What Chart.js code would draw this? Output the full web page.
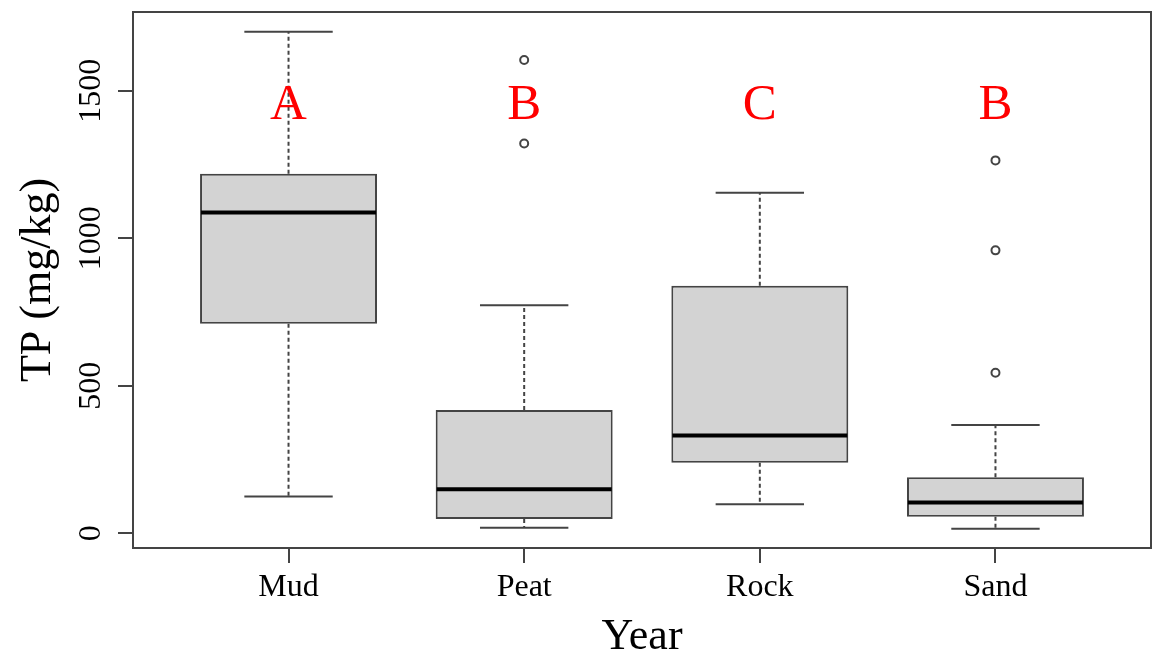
<!DOCTYPE html>
<html><head><meta charset="utf-8">
<script src="https://cdn.jsdelivr.net/npm/chart.js@4/dist/chart.umd.min.js"></script>
<style>html,body{margin:0;padding:0;background:#fff}#wrap{width:1152px;height:655px;position:relative}canvas{display:block}</style>
</head><body><div id="wrap"><canvas id="c" width="1152" height="655" style="width:1152px;height:655px"></canvas></div>
<script>
const categories = ['Mud', 'Peat', 'Rock', 'Sand'];
const whiskerLow = [125, 19, 98, 15];
const q1 = [710, 48, 239, 56];
const median = [1087, 149, 331, 104];
const q3 = [1219, 418, 839, 190];
const whiskerHigh = [1700, 773, 1154, 367];
const outliers = [[], [1604, 1321], [], [1264, 959, 544]];
const letters = ['A', 'B', 'C', 'B'];
const yTicks = [0, 500, 1000, 1500];
const xTitle = 'Year';
const yTitle = 'TP (mg/kg)';

const LINE = '#444444';
const SERIF = '"Liberation Serif", "Times New Roman", serif';
const LETTER_Y = 1404;

const boxPlugin = {
  id: 'boxExtras',
  beforeDatasetsDraw(chart) {
    const ctx = chart.ctx, xs = chart.scales.x, ys = chart.scales.y;
    const half = (xs.getPixelForValue(1.375) - xs.getPixelForValue(1)) ;
    ctx.save();
    ctx.strokeStyle = LINE;
    ctx.lineWidth = 2;
    categories.forEach((c, i) => {
      const x = xs.getPixelForValue(i + 1);
      ctx.setLineDash([4, 3]);
      ctx.beginPath();
      ctx.moveTo(x, ys.getPixelForValue(q3[i]));
      ctx.lineTo(x, ys.getPixelForValue(whiskerHigh[i]));
      ctx.moveTo(x, ys.getPixelForValue(q1[i]));
      ctx.lineTo(x, ys.getPixelForValue(whiskerLow[i]));
      ctx.stroke();
      ctx.setLineDash([]);
      ctx.beginPath();
      const hw = half / 2;
      ctx.moveTo(x - hw, ys.getPixelForValue(whiskerHigh[i]));
      ctx.lineTo(x + hw, ys.getPixelForValue(whiskerHigh[i]));
      ctx.moveTo(x - hw, ys.getPixelForValue(whiskerLow[i]));
      ctx.lineTo(x + hw, ys.getPixelForValue(whiskerLow[i]));
      ctx.stroke();
    });
    ctx.restore();
  },
  afterDatasetsDraw(chart) {
    const ctx = chart.ctx, xs = chart.scales.x, ys = chart.scales.y;
    const meta = chart.getDatasetMeta(0);
    ctx.save();
    // medians
    ctx.strokeStyle = '#000';
    ctx.lineWidth = 4;
    meta.data.forEach((bar, i) => {
      const w = bar.width;
      const y = ys.getPixelForValue(median[i]);
      ctx.beginPath();
      ctx.moveTo(bar.x - w / 2 + 1, y);
      ctx.lineTo(bar.x + w / 2 - 1, y);
      ctx.stroke();
    });
    // letters
    ctx.fillStyle = '#ff0000';
    ctx.font = '51px ' + SERIF;
    ctx.textAlign = 'center';
    ctx.textBaseline = 'alphabetic';
    letters.forEach((l, i) => {
      ctx.fillText(l, xs.getPixelForValue(i + 1), ys.getPixelForValue(LETTER_Y));
    });
    ctx.restore();
  },
  afterDraw(chart) {
    const ctx = chart.ctx, ys = chart.scales.y, a = chart.chartArea;
    ctx.save();
    // frame
    ctx.strokeStyle = LINE;
    ctx.lineWidth = 2;
    ctx.strokeRect(a.left, a.top, a.right - a.left, a.bottom - a.top);
    // y tick labels (rotated, R style)
    ctx.fillStyle = '#000';
    ctx.font = '32px ' + SERIF;
    ctx.textAlign = 'center';
    ctx.textBaseline = 'alphabetic';
    yTicks.forEach(v => {
      ctx.save();
      ctx.translate(a.left - 33, ys.getPixelForValue(v));
      ctx.rotate(-Math.PI / 2);
      ctx.fillText(String(v), 0, 0);
      ctx.restore();
    });
    // axis titles
    ctx.font = '44px ' + SERIF;
    ctx.save();
    ctx.translate(50, (a.top + a.bottom) / 2);
    ctx.rotate(-Math.PI / 2);
    ctx.fillText(yTitle, 0, 0);
    ctx.restore();
    ctx.fillText(xTitle, (a.left + a.right) / 2, 649);
    ctx.restore();
  }
};

new Chart(document.getElementById('c'), {
  type: 'bar',
  data: {
    datasets: [
      {
        type: 'bar',
        data: categories.map((c, i) => ({ x: i + 1, y: [q1[i], q3[i]] })),
        backgroundColor: '#d3d3d3',
        borderColor: LINE,
        borderWidth: 2,
        borderSkipped: false,
        categoryPercentage: 1,
        barPercentage: 0.751,
        order: 2
      },
      {
        type: 'scatter',
        data: outliers.flatMap((arr, i) => arr.map(v => ({ x: i + 1, y: v }))),
        showLine: false,
        pointStyle: 'circle',
        pointRadius: 4,
        pointBorderWidth: 2,
        pointBorderColor: LINE,
        pointBackgroundColor: 'rgba(0,0,0,0)',
        order: 1
      }
    ]
  },
  options: {
    responsive: false,
    maintainAspectRatio: false,
    animation: false,
    devicePixelRatio: 1,
    layout: { padding: { top: 12, right: 1, left: 0, bottom: 0 }, autoPadding: false },
    plugins: { legend: { display: false }, tooltip: { enabled: false } },
    scales: {
      x: {
        type: 'linear',
        min: 0.34,
        max: 4.66,
        offset: false,
        afterBuildTicks: s => { s.ticks = categories.map((c, i) => ({ value: i + 1 })); },
        afterFit: s => { s.height = 107; },
        ticks: {
          callback: v => categories[v - 1],
          font: { family: SERIF, size: 32 },
          color: '#000',
          padding: 5,
          maxRotation: 0,
          autoSkip: false
        },
        grid: { offset: false, drawOnChartArea: false, drawTicks: true, tickLength: 15, color: LINE, lineWidth: 2 },
        border: { display: false }
      },
      y: {
        type: 'linear',
        min: -50,
        max: 1767,
        afterBuildTicks: s => { s.ticks = yTicks.map(v => ({ value: v })); },
        afterFit: s => { s.width = 133; },
        ticks: { display: false },
        grid: { offset: false, drawOnChartArea: false, drawTicks: true, tickLength: 15, color: LINE, lineWidth: 2 },
        border: { display: false }
      }
    }
  },
  plugins: [boxPlugin]
});
</script>
</body></html>
